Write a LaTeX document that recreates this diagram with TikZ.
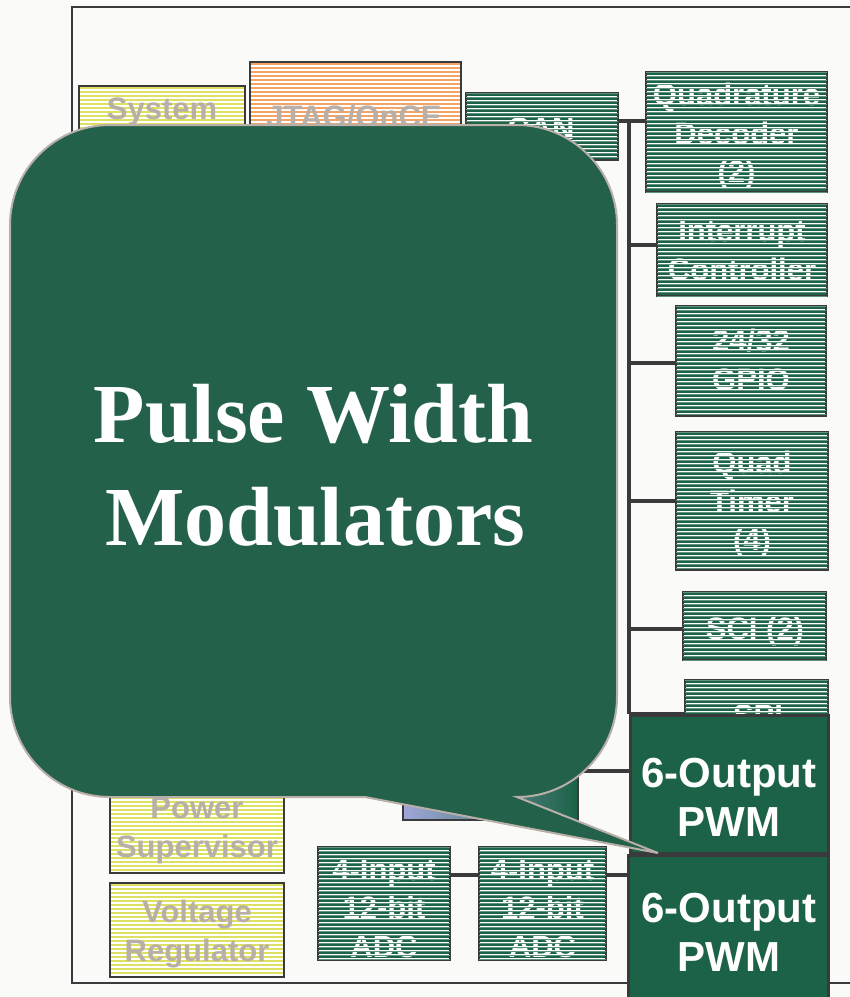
\documentclass[tikz,border=0pt]{standalone}
\usepackage{fontspec}
\setmainfont{Liberation Serif}
\setsansfont{Liberation Sans}
\definecolor{bg}{HTML}{FAFAF8}
\definecolor{framec}{HTML}{3A3A3C}
\definecolor{pwmc}{HTML}{1B6246}
\definecolor{callc}{HTML}{24614A}
\definecolor{calledge}{HTML}{B8B0A8}
\definecolor{gtext}{HTML}{B8B0A8}
\definecolor{gstripe}{HTML}{1D6347}
\definecolor{ystripe}{HTML}{DDE060}
\definecolor{ostripe}{HTML}{F2A468}
\definecolor{lav}{HTML}{A0A6D8}
\newcommand\bxfont{\sffamily\bfseries\fontsize{31}{38.5}\selectfont}
\newcommand\pwmfont{\sffamily\bfseries\fontsize{42}{49}\selectfont}
\newcommand\bigfont{\rmfamily\bfseries\fontsize{84}{103}\selectfont}
\tikzset{
  stripes/.style n args={3}{path picture={
    \foreach \k in {0,1,...,40}{
      \draw[draw=#1, line width=#2]
        ([yshift=-\k*4pt-#3]path picture bounding box.north west) -- ++(300pt,0pt);
    }}},
  box/.style={draw=framec, line width=2.5pt, inner sep=0pt, fill=white, font=\bxfont, align=center},
  gbox/.style={box, stripes={gstripe}{1.6pt}{2pt}, text=white},
  ybox/.style={box, stripes={ystripe}{1.4pt}{2pt}, text=gtext},
  obox/.style={box, stripes={ostripe}{1.4pt}{2pt}, text=gtext},
  gover/.style={stripes={gstripe!70!white}{1pt}{0.75pt}},
  btext/.style={font=\bxfont, inner sep=0pt, anchor=base},
  ctext/.style={font=\bxfont, inner sep=0pt, align=center},
  pwmbox/.style={draw=framec, line width=3pt, fill=pwmc, inner sep=0pt},
  pwmtext/.style={font=\pwmfont, text=white, align=center, inner sep=0pt},
  wire/.style={draw=framec, line width=4pt},
  framestyle/.style={draw=framec, line width=2.5pt},
  bigtext/.style={font=\bigfont, text=white, inner sep=0pt, anchor=base},
}
\begin{document}
\begin{tikzpicture}[x=1pt,y=-1pt]
\useasboundingbox (0,0) rectangle (850,997);
\fill[bg] (0,0) rectangle (850,997);
% chip frame
\draw[framestyle] (870,7) -- (72,7) -- (72,983) -- (870,983);

% left / top blocks
\node[ybox, minimum width=166pt, minimum height=124pt] (sys) at (162,148) {};
\node[btext, text=gtext] (syst) at (162,119) {System};
\node[obox, minimum width=211pt, minimum height=148pt] (jtag) at (355.5,136) {};
\node[btext, text=gtext] (jtagt) at (354,127) {JTAG/OnCE};
\node[gbox, minimum width=152pt, minimum height=67pt] (can) at (542,126.5) {};
\node[btext, text=white] (cant) at (541,139) {CAN};

% right column
\node[gbox, minimum width=181pt, minimum height=120pt] (qd) at (736.5,132) {};
\node[ctext, text=white] (qdt) at (736.5,136) {Quadrature\\Decoder\\(2)};
\node[gbox, minimum width=170pt, minimum height=92pt] (ic) at (742,250) {};
\node[ctext, text=white] (ict) at (742,250.5) {Interrupt\\Controller};
\node[gbox, minimum width=150pt, minimum height=110pt] (gpio) at (751,361) {};
\node[ctext, text=white] (gpiot) at (751,360) {24/32\\GPIO};
\node[gbox, minimum width=152pt, minimum height=138pt] (qt) at (752,501) {};
\node[ctext, text=white] (qtt) at (752,504) {Quad\\Timer\\(4)};
\node[gbox, minimum width=143pt, minimum height=68pt] (sci) at (754.5,626) {};
\node[ctext, text=white] (scit) at (755,631) {SCI (2)};
\node[gbox, minimum width=143pt, minimum height=70pt] (spi) at (756.5,715) {};
\node[btext, text=white] (spit) at (758,726) {SPI};

% bottom blocks
\node[ybox, minimum width=174pt, minimum height=133pt] (ps) at (197,806.5) {};
\node[btext, text=gtext] (pst1) at (197,818) {Power};
\node[btext, text=gtext] (pst2) at (197,857) {Supervisor};
\node[ybox, minimum width=174pt, minimum height=94pt] (vr) at (197,930) {};
\node[ctext, text=gtext] (vrt) at (197,934) {Voltage\\Regulator};
\node[gbox, minimum width=132pt, minimum height=113pt] (adc1) at (384,903.5) {};
\node[ctext, text=white] (adc1t) at (384,908) {4-Input\\12-bit\\ADC};
\node[gbox, minimum width=127pt, minimum height=113pt] (adc2) at (542.5,903.5) {};
\node[ctext, text=white] (adc2t) at (542.5,908) {4-Input\\12-bit\\ADC};
\node[draw=framec, line width=2.5pt, inner sep=0pt, minimum width=175pt, minimum height=90pt,
      left color=lav, middle color=lav!50!gray, right color=pwmc] (core) at (490.5,775) {};

% thin stripes over the white texts of the green blocks
\foreach \b in {can,qd,ic,gpio,qt,sci,spi,adc1,adc2}{
  \path[gover] ([shift={(1.25pt,-1.25pt)}]\b.north west) rectangle ([shift={(-1.25pt,1.25pt)}]\b.south east);
}

% PWM blocks
\node[pwmbox, minimum width=198pt, minimum height=138pt] (pwm1) at (729,784) {};
\node[pwmtext] (pwm1t) at (729,797) {6-Output\\PWM};
\node[pwmbox, minimum width=200pt, minimum height=155pt] (pwm2) at (728,932.5) {};
\node[pwmtext] (pwm2t) at (729,932) {6-Output\\PWM};

% bus and connectors
\coordinate (b1) at (629,121);
\coordinate (b2) at (629,245);
\coordinate (b3) at (629,363);
\coordinate (b4) at (629,501);
\coordinate (b5) at (629,629);
\coordinate (b6) at (629,714);
\coordinate (c7) at (0,771);
\coordinate (c8) at (0,875);
\draw[wire] (can.east |- b1) -- (qd.west |- b1);
\draw[wire] (b1) -- (b1 |- pwm1.north);
\draw[wire] (b2) -- (ic.west |- b2);
\draw[wire] (b3) -- (gpio.west |- b3);
\draw[wire] (b4) -- (qt.west |- b4);
\draw[wire] (b5) -- (sci.west |- b5);
\draw[wire] (b6) -- (spi.west |- b6);
\draw[wire] (core.east |- c7) -- (pwm1.west |- c7);
\draw[wire] (adc1.east |- c8) -- (adc2.west |- c8);
\draw[wire] (adc2.east |- c8) -- (pwm2.west |- c8);

% callout
\draw[fill=callc, draw=calledge, line width=2pt, line join=miter]
  (110,125) -- (517,125)
  .. controls (572.2,125) and (617,169.8) .. (617,225)
  -- (617,697)
  .. controls (617,752.2) and (572.2,797) .. (517,797)
  -- (658,853) -- (365,797) -- (110,797)
  .. controls (54.8,797) and (10,752.2) .. (10,697)
  -- (10,225)
  .. controls (10,169.8) and (54.8,125) .. (110,125) -- cycle;
\node[bigtext] (title1) at (313.5,442) {Pulse Width};
\node[bigtext] (title2) at (315,545) {Modulators};
\end{tikzpicture}
\end{document}
